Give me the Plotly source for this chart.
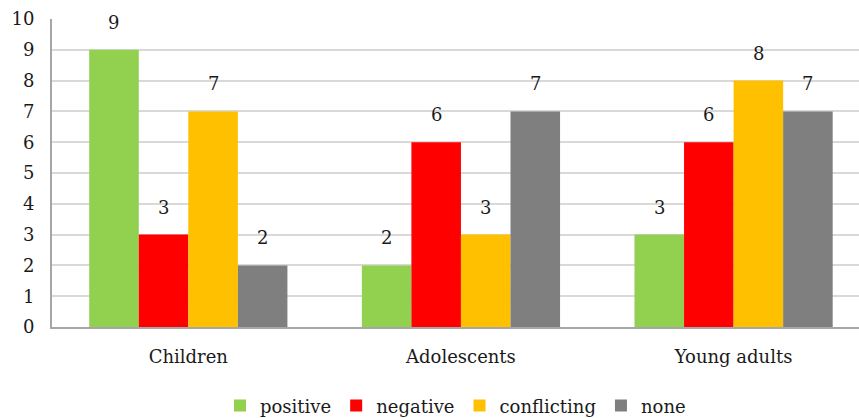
import plotly.graph_objects as go

categories = ["Children", "Adolescents", "Young adults"]
series_names = ["positive", "negative", "conflicting", "none"]
positive = [9, 2, 3]
negative = [3, 6, 6]
conflicting = [7, 3, 8]
none_vals = [2, 7, 7]
y_ticks = list(range(0, 11))

colors = ["#92d050", "#ff0000", "#ffc000", "#7f7f7f"]
series_values = [positive, negative, conflicting, none_vals]

FONT = "DejaVu Serif"
W, H = 859, 418
margin = dict(l=52, r=0, t=19, b=91, autoexpand=False)
x_range = [-0.5, 2.46]
bargap = 0.273

fig = go.Figure()
for name, vals, col in zip(series_names, series_values, colors):
    fig.add_trace(go.Bar(
        x=categories, y=vals, name=name,
        marker=dict(color=col, line=dict(width=0)),
    ))

# value labels above each bar, shifted to the bar's slot within its group
plot_w = W - margin["l"] - margin["r"]
px_per_cat = plot_w / (x_range[1] - x_range[0])
group_w = px_per_cat * (1 - bargap)
bar_w = group_w / len(series_names)
annotations = []
for i, vals in enumerate(series_values):
    offset = -group_w / 2 + bar_w * (i + 0.5)
    for cat, v in zip(categories, vals):
        annotations.append(dict(
            x=cat, y=v, xref="x", yref="y", text=str(v),
            showarrow=False, xshift=offset, yshift=15, yanchor="bottom",
            font=dict(family=FONT, size=18, color="#1a1a1a"),
        ))

fig.update_layout(
    width=W, height=H, margin=margin,
    paper_bgcolor="white", plot_bgcolor="white",
    barmode="group", bargap=bargap, bargroupgap=0,
    font=dict(family=FONT, size=18, color="#1a1a1a"),
    showlegend=True,
    legend=dict(orientation="h", x=0.5, xanchor="center", y=-0.256, yanchor="middle",
                font=dict(family=FONT, size=18, color="#1a1a1a"),
                itemwidth=30, tracegroupgap=0),
    annotations=annotations,
    xaxis=dict(range=x_range, showgrid=False, showline=True, linecolor="#a6a6a6",
               linewidth=2, ticks="", tickfont=dict(family=FONT, size=18),
               ticklabelstandoff=12),
    yaxis=dict(range=[0, 10], tickvals=y_ticks, showgrid=True, gridcolor="#d9d9d9",
               gridwidth=2, showline=True, linecolor="#a6a6a6", linewidth=2,
               zeroline=False, ticks="", tickfont=dict(family=FONT, size=18),
               ticklabelstandoff=12),
)

fig.write_html("out.html")
